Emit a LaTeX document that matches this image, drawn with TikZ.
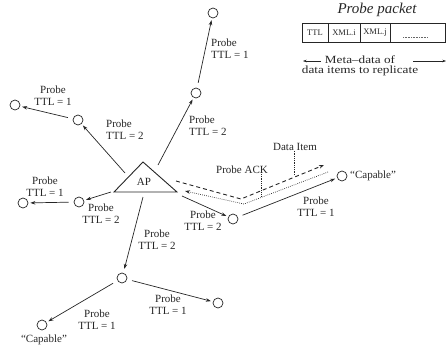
\documentclass[tikz,border=0pt]{standalone}
\usepackage{fontspec}
\setmainfont{Liberation Serif}
\newfontfamily\widefont{Liberation Serif}[FakeStretch=1.2,Ligatures=TeX]
\usetikzlibrary{arrows.meta}
\begin{document}
\begin{tikzpicture}[x=1pt,y=-1pt, color=black!85,
  nd/.style={circle, draw, minimum size=10pt, inner sep=0pt, line width=0.7pt},
  arr/.style={-{Stealth[length=5pt,width=3.5pt]}, line width=0.7pt, shorten <=5pt, shorten >=2pt},
  lab/.style={font=\fontsize{11}{12}\selectfont, align=center, inner sep=0pt},
  dashln/.style={line width=0.9pt, dash pattern=on 4pt off 3pt, -{Stealth[length=5pt,width=3.5pt]}},
  dotln/.style={line width=0.7pt, dash pattern=on 0.7pt off 1.3pt, -{Stealth[length=5pt,width=3.5pt]}},
  leader/.style={line width=0.5pt, dash pattern=on 0.6pt off 1.2pt}]
\useasboundingbox (0,0) rectangle (448,354);

% AP triangle
\coordinate (tA) at (143,162);
\coordinate (tL) at (114,192);
\coordinate (tR) at (177,192);
\draw[line width=0.9pt, fill=white] (tA) -- (tL) -- (tR) -- cycle;
\node[lab] (ap) at (144,182) {AP};
\coordinate (ap1) at (158,165);
\coordinate (ap2) at (125,173);
\coordinate (ap3) at (111,192);
\coordinate (ap4) at (143,197);
\coordinate (ap5) at (182,196);
\coordinate (ap6) at (176,181);
\coordinate (ap7) at (185,191);

% circles
\node[nd] (top) at (213,13) {};
\node[nd] (mu) at (196,93) {};
\node[nd] (lu) at (78,120) {};
\node[nd] (flu) at (15,105) {};
\node[nd] (lm) at (79,202) {};
\node[nd] (flm) at (23,203) {};
\node[nd] (lc) at (122,278) {};
\node[nd] (lr) at (218,303) {};
\node[nd] (ll) at (42,325) {};
\node[nd] (rl) at (233,219) {};
\node[nd] (cap) at (342,176) {};

% probe arrows
\draw[arr,shorten <=0pt] (ap1) -- (mu);
\draw[arr] (mu) -- (top);
\draw[arr,shorten <=0pt] (ap2) -- (lu);
\draw[arr] (lu) -- (flu);
\draw[arr,shorten <=0pt] (ap3) -- (lm);
\draw[arr] (lm) -- (flm);
\draw[arr,shorten <=0pt,shorten >=4pt] (ap4) -- (lc);
\draw[arr] (lc) -- (lr);
\draw[arr] (lc) -- (ll);
\draw[arr,shorten <=0pt] (ap5) -- (rl);
\draw[arr] (rl) -- (cap);

% data item and ACK
\coordinate (dv) at (241,199);
\coordinate (de) at (324,165);
\coordinate (ds) at (328,172);
\coordinate (dw) at (244,204);
\draw[dashln] (ap6) -- (dv) -- (de);
\draw[dotln] (ds) -- (dw) -- (ap7);

% labels
\node[lab, align=left, anchor=west] (l1) at (211,49) {Probe\\TTL = 1};
\node[lab, align=left, anchor=west] (l2) at (189,126) {Probe\\TTL = 2};
\node[lab, align=left, anchor=west] (l3) at (106,130) {Probe\\TTL = 2};
\node[lab] (l4) at (53,96) {Probe\\TTL = 1};
\node[lab] (l5) at (45,187) {Probe\\TTL = 1};
\node[lab] (l6) at (101,214) {Probe\\TTL = 2};
\node[lab] (l7) at (157,240) {Probe\\TTL = 2};
\node[lab] (l8) at (203,221) {Probe\\TTL = 2};
\node[lab] (l9) at (316,207) {Probe\\TTL = 1};
\node[lab] (l10) at (168,305) {Probe\\TTL = 1};
\node[lab] (l11) at (97,320) {Probe\\TTL = 1};
\node[lab, anchor=west] (c1) at (350,176) {\textquotedblleft Capable\textquotedblright};
\node[lab] (c2) at (44,340) {\textquotedblleft Capable\textquotedblright};

\node[lab] (ack) at (242,170) {Probe ACK};
\node[lab] (di) at (295,147) {Data Item};
\coordinate (ackend) at (261,196);
\coordinate (diend) at (294,176);
\draw[leader] (ack.south -| ackend) -- (ackend);
\draw[leader] (di.south -| diend) -- (diend);

% probe packet
\node[font=\fontsize{15}{15}\selectfont\itshape, inner sep=0pt] (ptitle) at (377,10) {Probe packet};
\draw[line width=0.6pt] (302,23) rectangle (445,42);
\draw[line width=0.6pt] (328,23) -- (328,42) (360,23) -- (360,42) (390,23) -- (390,42);
\node[font=\fontsize{8.5}{9}\selectfont, inner sep=0pt] (cttl) at (315,32.5) {TTL};
\node[font=\fontsize{8.5}{9}\selectfont, inner sep=0pt] (cxi) at (344,32.5) {XML.i};
\node[font=\fontsize{8.5}{9}\selectfont, inner sep=0pt] (cxj) at (375,32.5) {XML.j};
\draw[line width=0.5pt, dash pattern=on 0.6pt off 1pt, draw=black!60] (403,37) -- (428,37);
\node[font=\widefont\fontsize{11}{9.5}\selectfont, align=center, inner sep=0pt] (meta) at (360,66) {Meta\textendash data of\\data items to replicate};
\coordinate (la1) at (321,61);
\coordinate (la2) at (303,61);
\coordinate (ra1) at (413,61);
\coordinate (ra2) at (446,61);
\draw[line width=0.5pt, -{Stealth[length=3.5pt,width=2.5pt]}] (la1) -- (la2);
\draw[line width=0.5pt, -{Stealth[length=3.5pt,width=2.5pt]}] (ra1) -- (ra2);
\end{tikzpicture}
\end{document}
